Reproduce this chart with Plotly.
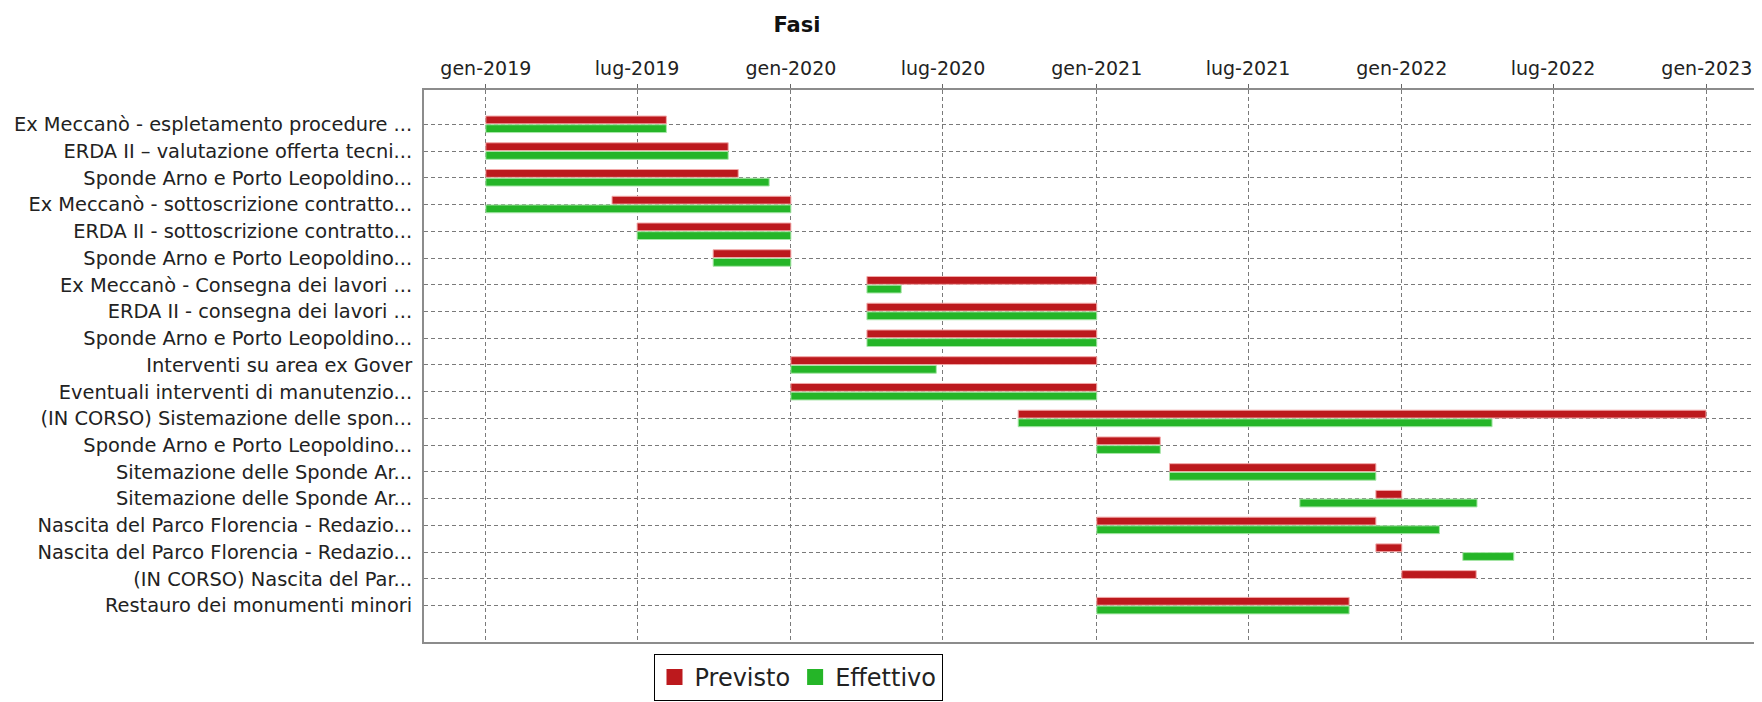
import pandas as pd
import plotly.graph_objects as go

# ---------------- data ----------------
tasks = [
    "Ex Meccanò - espletamento procedure ...",
    "ERDA II – valutazione offerta tecni...",
    "Sponde Arno e Porto Leopoldino...",
    "Ex Meccanò - sottoscrizione contratto...",
    "ERDA II - sottoscrizione contratto...",
    "Sponde Arno e Porto Leopoldino...",
    "Ex Meccanò - Consegna dei lavori ...",
    "ERDA II - consegna dei lavori ...",
    "Sponde Arno e Porto Leopoldino...",
    "Interventi su area ex Gover",
    "Eventuali interventi di manutenzio...",
    "(IN CORSO) Sistemazione delle spon...",
    "Sponde Arno e Porto Leopoldino...",
    "Sitemazione delle Sponde Ar...",
    "Sitemazione delle Sponde Ar...",
    "Nascita del Parco Florencia - Redazio...",
    "Nascita del Parco Florencia - Redazio...",
    "(IN CORSO) Nascita del Par...",
    "Restauro dei monumenti minori",
]

previsto_start = [
    "2019-01-01", "2019-01-01", "2019-01-01", "2019-06-01", "2019-07-01",
    "2019-09-30", "2020-04-01", "2020-04-01", "2020-04-01", "2020-01-01",
    "2020-01-01", "2020-09-29", "2021-01-01", "2021-03-29", "2021-12-01",
    "2021-01-01", "2021-12-01", "2022-01-01", "2021-01-01",
]
previsto_end = [
    "2019-08-05", "2019-10-18", "2019-10-30", "2020-01-01", "2020-01-01",
    "2020-01-01", "2021-01-01", "2021-01-01", "2021-01-01", "2021-01-01",
    "2021-01-01", "2022-12-31", "2021-03-18", "2021-12-01", "2022-01-01",
    "2021-12-01", "2022-01-01", "2022-03-31", "2021-10-30",
]
effettivo_start = [
    "2019-01-01", "2019-01-01", "2019-01-01", "2019-01-01", "2019-07-01",
    "2019-09-30", "2020-04-01", "2020-04-01", "2020-04-01", "2020-01-01",
    "2020-01-01", "2020-09-29", "2021-01-01", "2021-03-29", "2021-09-01",
    "2021-01-01", "2022-03-15", None, "2021-01-01",
]
effettivo_end = [
    "2019-08-05", "2019-10-18", "2019-12-06", "2020-01-01", "2020-01-01",
    "2020-01-01", "2020-05-12", "2021-01-01", "2021-01-01", "2020-06-23",
    "2021-01-01", "2022-04-19", "2021-03-18", "2021-12-01", "2022-04-01",
    "2022-02-15", "2022-05-15", None, "2021-10-30",
]

tick_dates = ["2019-01-01", "2019-07-01", "2020-01-01", "2020-07-01", "2021-01-01",
              "2021-07-01", "2022-01-01", "2022-07-01", "2023-01-01"]
tick_labels = ["gen-2019", "lug-2019", "gen-2020", "lug-2020", "gen-2021",
               "lug-2021", "gen-2022", "lug-2022", "gen-2023"]

series_names = ["Previsto", "Effettivo"]
series_colors = ["#BC191D", "#25B528"]
series_edges = ["#F2A8A8", "#A8E6A8"]

# ---------------- figure ----------------
FONT = "DejaVu Sans"
ypos = list(range(len(tasks)))

W, H = 1762, 702
OFF = 8  # page body margin offset
L, T, B = 424 - OFF, 90 - OFF, 702 - (642 - OFF)
R = OFF


def durations_ms(starts, ends):
    s = pd.to_datetime(pd.Series(starts))
    e = pd.to_datetime(pd.Series(ends))
    d = (e - s).dt.total_seconds() * 1000.0
    return [None if pd.isna(v) else float(v) for v in d]


fig = go.Figure()
series = [(previsto_start, previsto_end), (effettivo_start, effettivo_end)]
for (st, en), name, col, edge in zip(series, series_names, series_colors, series_edges):
    fig.add_trace(go.Bar(
        y=ypos,
        x=durations_ms(st, en),
        base=st,
        orientation="h",
        name=name,
        marker=dict(color=col, line=dict(color=edge, width=1)),
        showlegend=False,
        hoverinfo="skip",
    ))

# legend entries (square swatches)
for name, col in zip(series_names, series_colors):
    fig.add_trace(go.Scatter(
        x=[None], y=[None], mode="markers", name=name,
        marker=dict(symbol="square", size=16, color=col),
        showlegend=True,
    ))

plot_w = W - L - R
plot_h = H - T - B

fig.update_layout(
    width=W, height=H,
    margin=dict(l=L, r=R, t=T, b=B, autoexpand=False),
    paper_bgcolor="white", plot_bgcolor="white",
    barmode="group", bargap=0.35, bargroupgap=0.1,
    font=dict(family=FONT, size=19, color="#222222"),
    title=dict(text="<b>Fasi</b>", x=(797 - OFF) / W, xanchor="center",
               xref="container", yref="container", y=1 - (25 - OFF) / H, yanchor="middle",
               font=dict(family=FONT, size=21, color="#111111")),
    legend=dict(orientation="h", x=(798 - 424) / plot_w, xanchor="center",
                y=-12 / plot_h, yanchor="top",
                bordercolor="#000000", borderwidth=1, bgcolor="white",
                font=dict(family=FONT, size=24, color="#222222"),
                itemwidth=30),
)

GRID_DASH = "4px,3px"
fig.update_xaxes(
    type="date", side="top",
    range=["2018-10-19", "2023-03-08"],
    tickmode="array", tickvals=tick_dates, ticktext=tick_labels,
    ticks="outside", ticklen=4, tickcolor="#666666",
    ticklabelstandoff=1,
    showgrid=True, gridcolor="#7a7a7a", griddash=GRID_DASH, gridwidth=1,
    showline=True, linecolor="#8c8c8c", linewidth=2, mirror=True,
    zeroline=False, automargin=False,
    tickfont=dict(family=FONT, size=19, color="#222222"),
)
fig.update_yaxes(
    range=[19.36, -1.283],
    tickmode="array", tickvals=ypos, ticktext=tasks,
    ticks="", ticklabelstandoff=6,
    showgrid=True, gridcolor="#7a7a7a", griddash=GRID_DASH, gridwidth=1,
    showline=True, linecolor="#8c8c8c", linewidth=2, mirror=False,
    zeroline=False, automargin=False,
    tickfont=dict(family=FONT, size=19.4, color="#222222"),
)

fig.write_html("out.html")
